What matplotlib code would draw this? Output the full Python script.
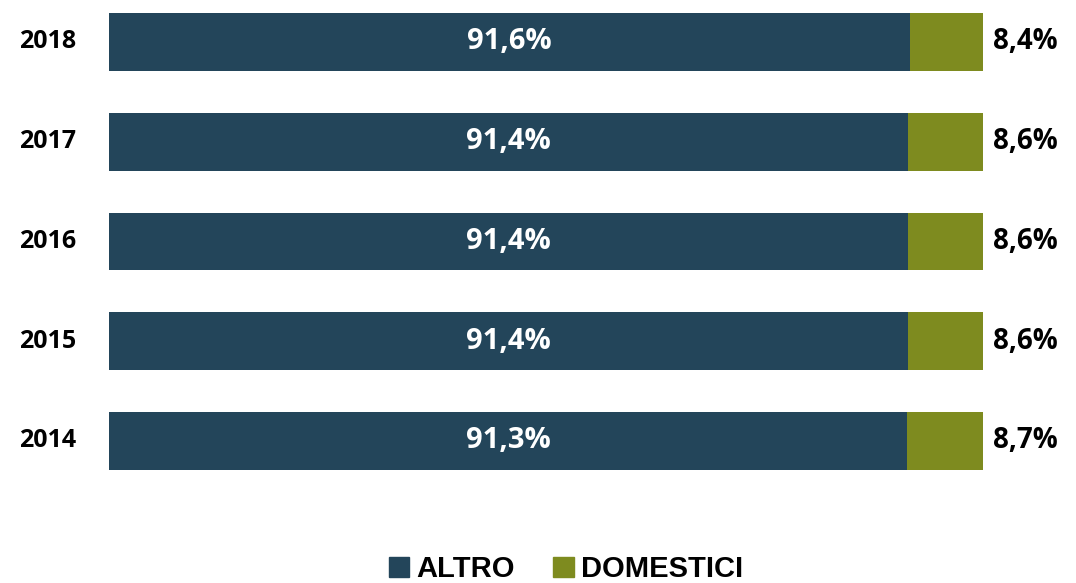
import matplotlib
matplotlib.use("Agg")
import matplotlib.pyplot as plt
from matplotlib.patches import Patch

years = ["2014", "2015", "2016", "2017", "2018"]
altro = [91.3, 91.4, 91.4, 91.4, 91.6]
domestici = [8.7, 8.6, 8.6, 8.6, 8.4]
altro_labels = ["91,3%", "91,4%", "91,4%", "91,4%", "91,6%"]
dom_labels = ["8,7%", "8,6%", "8,6%", "8,6%", "8,4%"]

c_altro = "#23455a"
c_dom = "#7e8b1f"

fig = plt.figure(figsize=(10.76, 5.83), dpi=100)
ax = fig.add_axes([109 / 1076, 0, 874 / 1076, 1])

pos = range(len(years))
ax.barh(pos, altro, height=0.58, color=c_altro)
ax.barh(pos, domestici, left=altro, height=0.58, color=c_dom)

for i in pos:
    ax.text(altro[i] / 2, i, altro_labels[i], ha="center", va="center",
            color="white", fontsize=21, fontweight="bold", family="Open Sans")
    ax.text(101.2, i, dom_labels[i], ha="left", va="center",
            color="black", fontsize=20, fontweight="bold", family="Open Sans")
    ax.text(-7, i, years[i], ha="center", va="center",
            color="black", fontsize=18, fontweight="bold", family="Open Sans")

ax.set_xlim(0, 100)
ax.set_ylim(-1.424, 4.421)
ax.axis("off")

handles = [Patch(color=c_altro, label="ALTRO"), Patch(color=c_dom, label="DOMESTICI")]
fig.legend(handles=handles, loc="lower center", bbox_to_anchor=(0.526, -0.045), ncol=2,
           frameon=False, handlelength=0.7, handleheight=0.7, handletextpad=0.25,
           columnspacing=1.3, prop={"family": "Liberation Sans", "weight": "bold", "size": 21})

fig.savefig("out.png", dpi=100)
